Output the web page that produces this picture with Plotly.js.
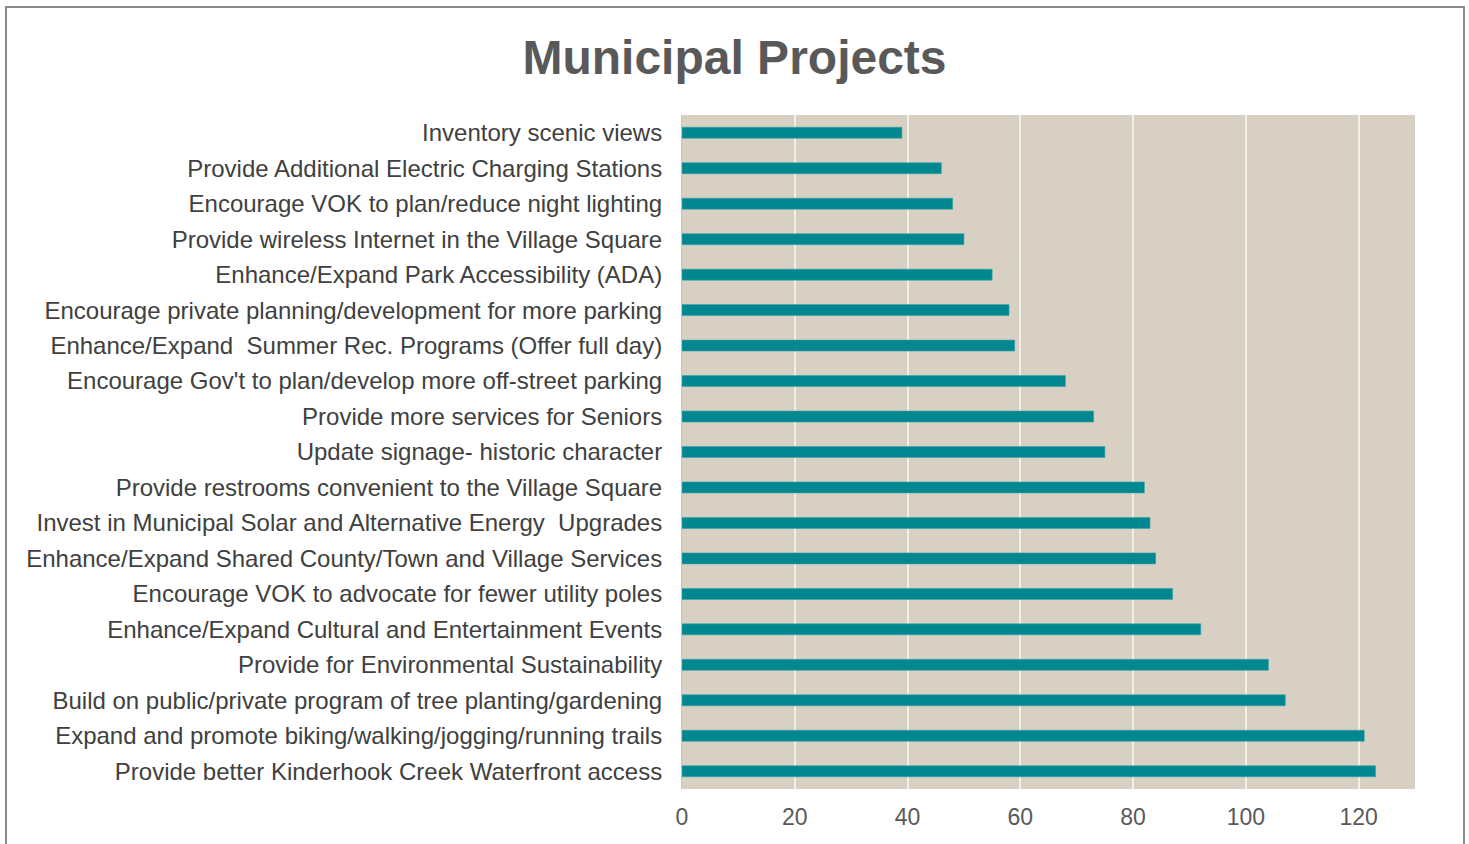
<!DOCTYPE html>
<html>
<head>
<meta charset="utf-8">
<script src="https://cdn.plot.ly/plotly-3.0.1.min.js"></script>
<style>
html,body{margin:0;padding:0;background:#fff;overflow:hidden;}
#frame{position:absolute;left:5px;top:6px;width:1460px;height:860px;border:2px solid #8a8a8a;border-bottom:none;box-sizing:border-box;pointer-events:none;z-index:5;}
#chart{position:absolute;left:0;top:0;width:1469px;height:844px;}
</style>
</head>
<body>
<div id="chart"></div>
<div id="frame"></div>
<script>
const categories = [
  "Inventory scenic views",
  "Provide Additional Electric Charging Stations",
  "Encourage VOK to plan/reduce night lighting",
  "Provide wireless Internet in the Village Square",
  "Enhance/Expand Park Accessibility (ADA)",
  "Encourage private planning/development for more parking",
  "Enhance/Expand \u00a0Summer Rec. Programs (Offer full day)",
  "Encourage Gov't to plan/develop more off-street parking",
  "Provide more services for Seniors",
  "Update signage- historic character",
  "Provide restrooms convenient to the Village Square",
  "Invest in Municipal Solar and Alternative Energy \u00a0Upgrades",
  "Enhance/Expand Shared County/Town and Village Services",
  "Encourage VOK to advocate for fewer utility poles",
  "Enhance/Expand Cultural and Entertainment Events",
  "Provide for Environmental Sustainability",
  "Build on public/private program of tree planting/gardening",
  "Expand and promote biking/walking/jogging/running trails",
  "Provide better Kinderhook Creek Waterfront access"
];
const values = [39, 46, 48, 50, 55, 58, 59, 68, 73, 75, 82, 83, 84, 87, 92, 104, 107, 121, 123];
const xTicks = [0, 20, 40, 60, 80, 100, 120];

const trace = {
  type: 'bar',
  orientation: 'h',
  x: values,
  y: categories,
  marker: {color: '#00878f', line: {color: '#3aa3a9', width: 0.6}},
  hoverinfo: 'x+y'
};

const layout = {
  width: 1469,
  height: 844,
  paper_bgcolor: '#ffffff',
  plot_bgcolor: '#d8d0c2',
  margin: {l: 682, r: 54, t: 115, b: 55},
  bargap: 0.69,
  showlegend: false,
  title: {
    text: '<b>Municipal Projects</b>',
    font: {family: 'Liberation Sans, Arial, sans-serif', size: 48, color: '#595959'},
    x: 0.5, xanchor: 'center', xref: 'container',
    y: 0.932, yanchor: 'middle'
  },
  xaxis: {
    range: [0, 130],
    tickvals: xTicks,
    ticktext: xTicks.map(String),
    showgrid: true,
    gridcolor: '#f2efe9',
    gridwidth: 2,
    zeroline: false,
    showline: false,
    ticks: 'outside',
    ticklen: 7,
    tickcolor: 'rgba(0,0,0,0)',
    tickfont: {family: 'Liberation Sans, Arial, sans-serif', size: 23, color: '#595959'},
    fixedrange: true
  },
  yaxis: {
    autorange: 'reversed',
    type: 'category',
    showgrid: false,
    zeroline: false,
    showline: true,
    linecolor: '#c8c2b8',
    linewidth: 1,
    ticks: 'outside',
    ticklen: 14,
    tickcolor: 'rgba(0,0,0,0)',
    tickfont: {family: 'Liberation Sans, Arial, sans-serif', size: 24, color: '#404040'},
    fixedrange: true
  }
};

Plotly.newPlot('chart', [trace], layout, {displayModeBar: false, staticPlot: true});
</script>
</body>
</html>
